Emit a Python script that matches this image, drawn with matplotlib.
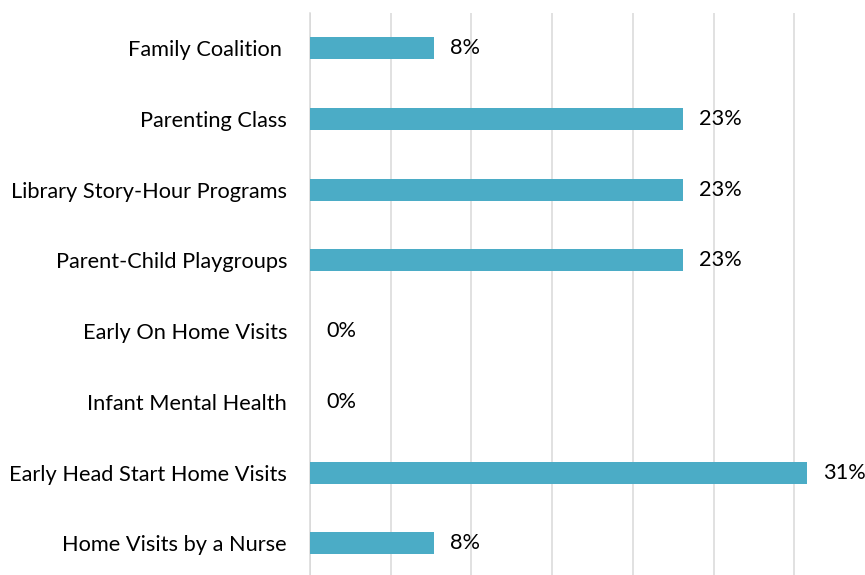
import matplotlib
matplotlib.use("Agg")
import matplotlib.pyplot as plt

categories = ["Family Coalition ", "Parenting Class", "Library Story-Hour Programs",
              "Parent-Child Playgroups", "Early On Home Visits", "Infant Mental Health",
              "Early Head Start Home Visits", "Home Visits by a Nurse"]
values = [7.7, 23.1, 23.1, 23.1, 0.0, 0.0, 30.8, 7.7]
grid_ticks = [0, 5, 10, 15, 20, 25, 30]

plt.rcParams['font.family'] = ['Lato', 'DejaVu Sans']

W, H = 865, 575
fig = plt.figure(figsize=(W / 100, H / 100), dpi=100)
left_px, right_px, top_px, bot_px = 310, 865, 13, 578.6
ax = fig.add_axes([left_px / W, (H - bot_px) / H, (right_px - left_px) / W, (bot_px - top_px) / H])

y = list(range(len(categories)))
ax.barh(y, values, height=0.31, color="#4BACC6", zorder=3)

ax.set_xticks(grid_ticks)
ax.grid(axis="x", color="#d9d9d9", linewidth=1.1, zorder=0)
ax.axvline(0, color="#d9d9d9", linewidth=1.1, zorder=0, clip_on=False)
ax.tick_params(axis="x", length=0, labelbottom=False)
ax.set_yticks(y)
ax.set_yticklabels(categories, fontsize=15.7, color="#000000")
ax.tick_params(axis="y", length=0, pad=16.5)
ax.set_ylim(len(categories) - 0.5, -0.5)
ax.set_xlim(0, (right_px - left_px) / 16.14)
for s in ax.spines.values():
    s.set_visible(False)

for yi, v in zip(y, values):
    ax.annotate(f"{v:.0f}%", (v, yi), xytext=(16, 0), textcoords="offset pixels",
                va="center", ha="left", fontsize=15.7, color="#000000", annotation_clip=False)

fig.savefig("out.png", dpi=100)
